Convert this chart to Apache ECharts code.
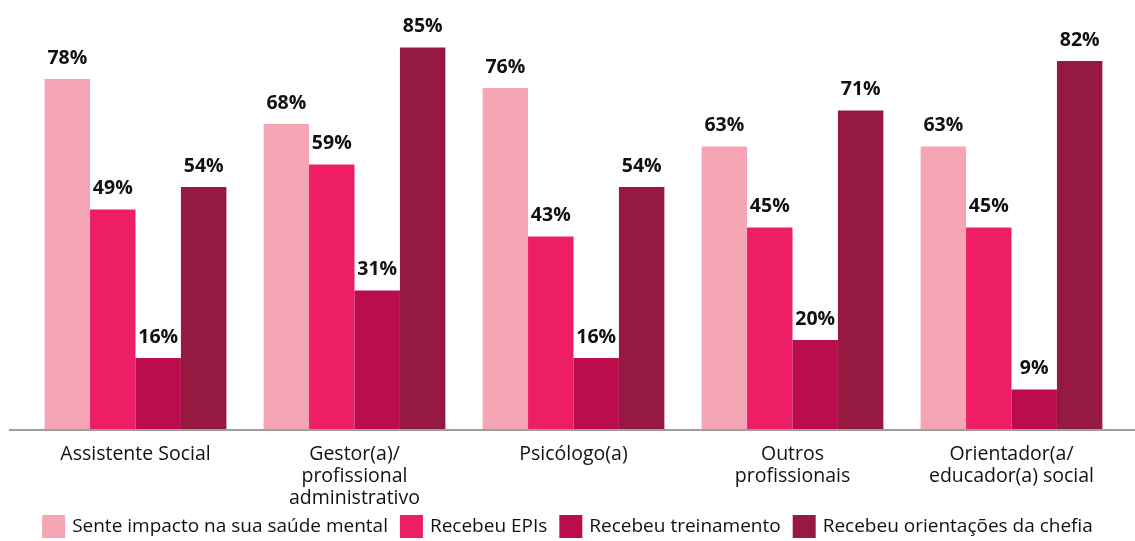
<!DOCTYPE html>
<html>
<head>
<meta charset="utf-8">
<script src="https://cdn.jsdelivr.net/npm/echarts@6/dist/echarts.min.js"></script>
<style>
  html, body { margin: 0; padding: 0; background: #fff; }
  #chart { width: 1135px; height: 541px; }
</style>
</head>
<body>
<div id="chart"></div>
<script>
var categories = ['Assistente Social', 'Gestor(a)/\nprofissional\nadministrativo', 'Psicólogo(a)', 'Outros\nprofissionais', 'Orientador(a/\neducador(a) social'];
var seriesNames = ['Sente impacto na sua saúde mental', 'Recebeu EPIs', 'Recebeu treinamento', 'Recebeu orientações da chefia'];
var saudeMental = [78, 68, 76, 63, 63];
var recebeuEPIs = [49, 59, 43, 45, 45];
var treinamento = [16, 31, 16, 20, 9];
var orientacoes = [54, 85, 54, 71, 82];
var colors = ['#f5a5b4', '#ee1e66', '#bb0c4e', '#951940'];

var FONT = '"Open Sans", "Noto Sans", sans-serif';
var chart = echarts.init(document.getElementById('chart'));

function makeSeries(name, data, color) {
    return {
        name: name,
        type: 'bar',
        data: data,
        barGap: '0%',
        barCategoryGap: '17%',
        itemStyle: { color: color },
        label: {
            show: true,
            position: 'top',
            distance: 11,
            formatter: '{c}%',
            color: '#111',
            fontSize: 19.5,
            fontWeight: 'bold',
            fontFamily: FONT
        }
    };
}

chart.setOption({
    animation: false,
    textStyle: { fontFamily: FONT },
    color: colors,
    grid: { left: 26, right: 14, top: 25, bottom: 111 },
    legend: {
        top: 515,
        left: 'center',
        padding: 0,
        itemWidth: 23,
        itemHeight: 23,
        itemGap: 12,
        icon: 'rect',
        textStyle: { fontSize: 19, fontWeight: 500, color: '#111', fontFamily: FONT, padding: [0, 0, 0, 2] },
        data: seriesNames
    },
    xAxis: {
        type: 'category',
        data: categories,
        axisLine: { show: false },
        axisTick: { show: false },
        axisLabel: {
            margin: 13,
            fontSize: 19.5,
            fontWeight: 500,
            lineHeight: 22,
            color: '#111',
            fontFamily: FONT,
            interval: 0
        }
    },
    yAxis: {
        type: 'value',
        min: 0,
        max: 90,
        show: false,
        splitLine: { show: false }
    },
    graphic: [{
        type: 'line',
        shape: { x1: 9, y1: 430, x2: 1135, y2: 430 },
        style: { stroke: '#9e9e9e', lineWidth: 2 },
        z: 10
    }],
    series: [
        makeSeries(seriesNames[0], saudeMental, colors[0]),
        makeSeries(seriesNames[1], recebeuEPIs, colors[1]),
        makeSeries(seriesNames[2], treinamento, colors[2]),
        makeSeries(seriesNames[3], orientacoes, colors[3])
    ]
});
</script>
</body>
</html>
